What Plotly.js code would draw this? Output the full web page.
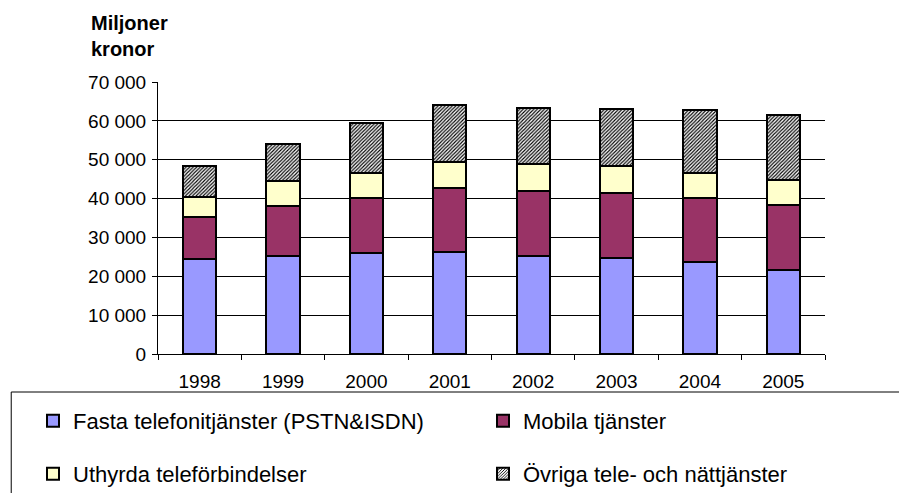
<!DOCTYPE html>
<html>
<head>
<meta charset="utf-8">
<script src="https://cdn.plot.ly/plotly-3.0.1.min.js"></script>
<style>
  html, body { margin: 0; padding: 0; background: #fff; }
  #plot { width: 899px; height: 493px; }
</style>
</head>
<body>
<div id="plot"></div>
<script>
// Miljoner kronor per tjänst och år
let years = ['1998', '1999', '2000', '2001', '2002', '2003', '2004', '2005'];
let fasta = [24500, 25300, 25900, 26300, 25100, 24800, 23700, 21600];
let mobila = [10800, 12700, 14300, 16300, 16800, 16700, 16400, 16700];
let uthyrda = [5200, 6600, 6400, 6800, 7000, 6900, 6500, 6600];
let ovriga = [7800, 9400, 12900, 14700, 14300, 14600, 16200, 16700];
let yTicks = [0, 10000, 20000, 30000, 40000, 50000, 60000, 70000];
let yTickText = ['0', '10 000', '20 000', '30 000', '40 000', '50 000', '60 000', '70 000'];

let font = 'Liberation Sans, Arial, sans-serif';
let outline = { color: '#000', width: 2 };

let data = [
    { x: years, y: fasta, name: 'Fasta telefonitjänster (PSTN&ISDN)', type: 'bar',
      marker: { color: '#9999FF', line: outline }, legend: 'legend' },
    { x: years, y: mobila, name: 'Mobila tjänster', type: 'bar',
      marker: { color: '#993366', line: outline }, legend: 'legend2' },
    { x: years, y: uthyrda, name: 'Uthyrda teleförbindelser', type: 'bar',
      marker: { color: '#FFFFCC', line: outline }, legend: 'legend3' },
    { x: years, y: ovriga, name: 'Övriga tele- och nättjänster', type: 'bar',
      marker: { color: '#fff', line: outline,
                pattern: { shape: '/', fgcolor: '#000', bgcolor: '#fff', size: 2.5, solidity: 0.45 } },
      legend: 'legend4' }
];

// one legend per entry so each can sit where the original has it
function legendAt(px, py) {
    return {
        orientation: 'h',
        xref: 'container', yref: 'container',
        x: px / 899, xanchor: 'left',
        y: 1 - py / 493, yanchor: 'middle',
        font: { family: font, size: 22, color: '#000' },
        bgcolor: 'rgba(0,0,0,0)'
    };
}

let layout = {
    width: 899,
    height: 493,
    margin: { l: 158, r: 74, t: 82, b: 139 },
    paper_bgcolor: '#fff',
    plot_bgcolor: '#fff',
    barmode: 'stack',
    bargap: 0.6,
    font: { family: font, size: 19, color: '#000' },
    xaxis: {
        type: 'category',
        showline: true, linecolor: '#000', linewidth: 1,
        ticks: 'outside', tickson: 'boundaries', ticklen: 5, tickcolor: '#000',
        ticklabelstandoff: 10,
        showgrid: false,
        tickfont: { family: font, size: 19 }
    },
    yaxis: {
        range: [0, 70000],
        tickvals: yTicks,
        ticktext: yTickText,
        showline: true, linecolor: '#000', linewidth: 1,
        ticks: 'outside', ticklen: 5, tickcolor: '#000',
        ticklabelstandoff: 2,
        showgrid: true, gridcolor: '#000', gridwidth: 1,
        zeroline: false,
        tickfont: { family: font, size: 19 }
    },
    showlegend: true,
    legend: legendAt(33, 421),
    legend2: legendAt(483, 421),
    legend3: legendAt(33, 474),
    legend4: legendAt(483, 474),
    annotations: [{
        text: '<b>Miljoner<br>kronor</b>',
        xref: 'paper', yref: 'paper',
        x: (89 - 158) / 668, y: (354 - 10) / 272,
        xanchor: 'left', yanchor: 'top', align: 'left',
        showarrow: false,
        font: { family: font, size: 20, color: '#000' }
    }],
    shapes: [{
        type: 'rect', xref: 'paper', yref: 'paper',
        x0: (11 - 158) / 668, x1: (910 - 158) / 668,
        y0: (354 - 392) / 272, y1: (354 - 510) / 272,
        line: { color: '#000', width: 1 }, fillcolor: 'rgba(0,0,0,0)'
    }]
};

Plotly.newPlot('plot', data, layout, { displayModeBar: false, staticPlot: true });
</script>
</body>
</html>
